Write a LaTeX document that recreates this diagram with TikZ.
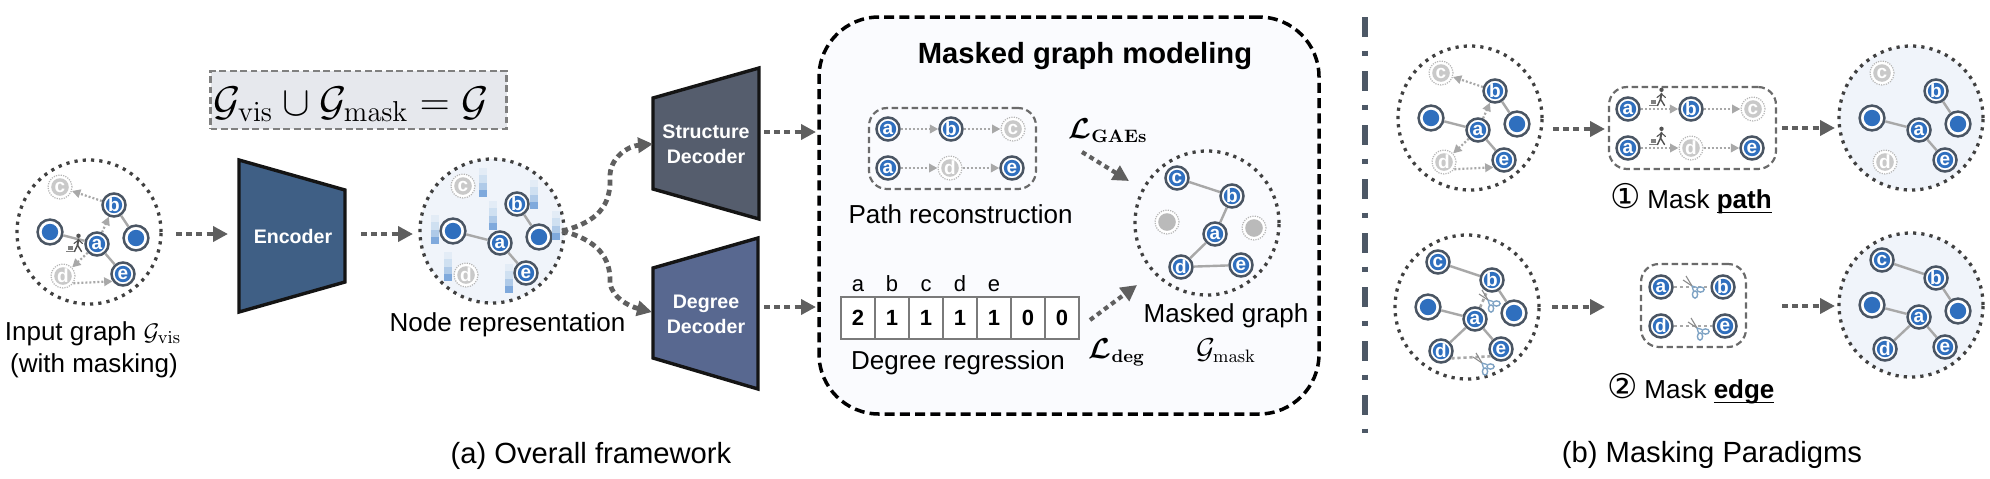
\documentclass[tikz,border=0pt]{standalone}
\usepackage[no-math]{fontspec}
\usepackage{amsmath,amssymb,bm}
\setmainfont{Liberation Sans}
\newfontfamily\djv{DejaVu Sans}
\usetikzlibrary{arrows.meta,calc}
\definecolor{ndblue}{HTML}{2F6FBE}
\definecolor{ring}{HTML}{4A5563}
\definecolor{ghost}{HTML}{C9C9C9}
\definecolor{edgeg}{HTML}{A8A8A8}
\definecolor{arrg}{HTML}{5F5F5F}
\definecolor{softb}{HTML}{F0F4FA}
\definecolor{panel}{HTML}{FAFBFE}
\definecolor{sepc}{HTML}{4D5866}
\definecolor{sciss}{HTML}{7FA3C4}
\definecolor{eqfill}{HTML}{E6E8ED}
\definecolor{encfill}{HTML}{3F5F85}
\definecolor{strfill}{HTML}{555D6D}
\definecolor{degfill}{HTML}{586890}
\definecolor{barA}{HTML}{E3ECF6}
\definecolor{barB}{HTML}{CFE0F1}
\definecolor{barC}{HTML}{AFCAE8}
\definecolor{barD}{HTML}{7FA9DC}
\tikzset{
  txt/.style={anchor=base,inner sep=0pt,font=\fontsize{13}{15}\selectfont},
  ltxt/.style={anchor=base west,inner sep=0pt,font=\fontsize{13}{15}\selectfont},
  capt/.style={anchor=base,inner sep=0pt,font=\fontsize{14.6}{17}\selectfont},
  wtxt/.style={anchor=base,inner sep=0pt,text=white,font=\fontsize{9.8}{11}\selectfont\bfseries},
  trap/.style={draw=black!92,line width=1.7pt,line join=miter},
  realn/.style={circle,draw=ring,line width=1.25pt,fill=white,minimum size=11.5pt,inner sep=0pt,
     text=white,font=\fontsize{9.5}{10}\selectfont\bfseries,
     path picture={\fill[ndblue] (path picture bounding box.center) circle (4.1pt);}},
  ghostn/.style={circle,draw=ghost!90!black,line width=.6pt,dash pattern=on .6pt off .6pt,fill=white,minimum size=12pt,inner sep=0pt,
     text=white,font=\fontsize{9.5}{10}\selectfont\bfseries,
     path picture={\fill[ghost] (path picture bounding box.center) circle (4.4pt);}},
  gcirc/.style={circle,draw=black!75,line width=1.65pt,dash pattern=on 1.6pt off 2.55pt,minimum size=72pt,inner sep=0pt},
  solidedge/.style={draw=edgeg,line width=1.2pt},
  dotarr/.style={draw=edgeg,line width=1.1pt,dash pattern=on 1pt off 1pt,-{Triangle[length=4.2pt,width=4.2pt,fill=edgeg]}},
  dotline/.style={draw=edgeg,line width=1.3pt,dash pattern=on 1.6pt off 1.4pt},
  bigarr/.style={draw=arrg,line width=2.4pt,dash pattern=on 3pt off 2.1pt,-{Triangle[length=7.5pt,width=7.5pt,fill=arrg]}},
  lossarr/.style={draw=arrg,line width=2.1pt,dash pattern=on 2.4pt off 2pt,-{Triangle[length=8pt,width=8pt,fill=arrg]}},
  pbox/.style={draw=black!58,line width=1.1pt,dash pattern=on 3.2pt off 1.8pt,rounded corners=9pt,inner sep=0pt},
  cell/.style={draw=black!52,line width=1.1pt,minimum width=17pt,minimum height=21pt,inner sep=0pt,fill=white,font=\fontsize{11}{12}\selectfont\bfseries},
}
\newcommand{\Ul}[1]{\setbox0\hbox{#1}\rlap{\rule[-2.5pt]{\wd0}{.6pt}}\box0}
\newcommand{\Base}[4]{%
  \node[gcirc,fill=#4] (#1) at (#2,#3) {};
  \begin{scope}[shift={(#2,#3)}]
    \node[realn,minimum size=12.4pt] (#1-L) at (-39,0) {};
    \node[realn,minimum size=12.4pt] (#1-R) at (47,6) {};
    \node[realn] (#1-a) at (8,12) {a};
    \node[realn] (#1-b) at (25,-27) {b};
    \node[realn] (#1-e) at (34,42) {e};
  \end{scope}
  \draw[solidedge] (#1-L) -- (#1-a);
  \draw[solidedge] (#1-b) -- (#1-R);
  \draw[solidedge] (#1-a) -- (#1-e);
}
\newcommand{\Ghosts}[3]{%
  \begin{scope}[shift={(#2,#3)}]
    \node[ghostn] (#1-c) at (-29,-45) {c};
    \node[ghostn] (#1-d) at (-26,44) {d};
  \end{scope}
}
\newcommand{\Reals}[3]{%
  \begin{scope}[shift={(#2,#3)}]
    \node[realn] (#1-c) at (-29,-45) {c};
    \node[realn] (#1-d) at (-26,44) {d};
  \end{scope}
  \draw[solidedge] (#1-c) -- (#1-b);
  \draw[solidedge] (#1-a) -- (#1-d);
}
\newcommand{\Walks}[1]{%
  \draw[dotarr] (#1-b) -- (#1-c);
  \draw[dotarr] (#1-a) -- (#1-b);
  \draw[dotarr] (#1-a) -- (#1-d);
  \draw[dotarr] (#1-d.-35) -- (#1-e.215);
}
\newcommand{\Arr}[5]{%
  \coordinate (#1s) at (#2,#3);
  \coordinate (#1t) at (#4,#5);
  \draw[bigarr] (#1s) -- (#1t);
}
\newcommand{\Barr}[2]{%
  \fill[barA] (#1,#2) rectangle ++(7.5,7.3);
  \fill[barB] (#1,#2+7.3) rectangle ++(7.5,7.3);
  \fill[barC] (#1,#2+14.6) rectangle ++(7.5,7.3);
  \fill[barD] (#1,#2+21.9) rectangle ++(7.5,7.3);
}
\newcommand{\Sc}[2]{%
  \begin{scope}[shift={(#1,#2)}]
    \draw[black!45,line width=.55pt] (0,0) -- (-9,-6);
    \draw[black!45,line width=.55pt] (0,0) -- (-6,-10);
    \draw[sciss,line width=.65pt] (0,0) -- (1.5,5) (0,0) -- (5,1.5);
    \draw[sciss,line width=.7pt] (3,8.5) ellipse (2.6 and 3.6);
    \draw[sciss,line width=.7pt] (8.5,3.5) ellipse (3.6 and 2.6);
  \end{scope}
}
\newcommand{\Wk}[2]{%
  \begin{scope}[shift={(#1,#2)},black!68]
    \fill (1.5,-7.2) circle (2.2);
    \draw[line width=.95pt,line cap=round] (1.5,-3.5) -- (0.5,2);
    \draw[line width=.7pt,line cap=round] (0.5,2) -- (4.5,8.5) (0.5,2) -- (-2.5,8.5);
    \draw[line width=.55pt,line cap=round] (1.5,-3) -- (5.5,0.5) (1.5,-3) -- (-3,0.5);
    \fill[black!50] (-9,3) rectangle (-4.5,7);
    \draw[black!50,line width=.5pt] (-11,8.7) -- (-3,8.7);
  \end{scope}
}
\begin{document}
\begin{tikzpicture}[x=.5pt,y=-.5pt]
\useasboundingbox (0,0) rectangle (1990,478);

% equation box
\node[draw=black!50,fill=eqfill,line width=1.4pt,dash pattern=on 3.4pt off 1.8pt,minimum width=148pt,minimum height=29pt,inner sep=0pt] (eqbox) at (358.5,100) {};
\node[anchor=base,inner sep=0pt,font=\fontsize{20}{24}\selectfont] (eq) at (351,115) {$\mathcal{G}_{\mathrm{vis}}\cup\mathcal{G}_{\mathrm{mask}}=\mathcal{G}$};

% input graph
\Base{g1}{89}{232}{white}
\Ghosts{g1}{89}{232}
\Walks{g1}
\Wk{77}{243}
\node[txt] (t1) at (93,340) {Input graph $\mathcal{G}_{\mathrm{vis}}$};
\node[txt] (t2) at (94,372) {(with masking)};

% encoder
\draw[trap,fill=encfill] (239,160) -- (345,190) -- (345,282) -- (239,312) -- cycle;
\node[wtxt] (enc) at (293,243) {Encoder};
\Arr{a1}{176}{234}{228}{234}
\Arr{a2}{361}{234}{413}{234}

% node representation
\Base{g2}{492}{231}{softb}
\Ghosts{g2}{492}{231}
\Barr{479}{168}
\Barr{530}{180}
\Barr{489}{201}
\Barr{431}{215}
\Barr{444}{252}
\Barr{552}{211}
\Barr{505}{264}
\node[txt] (t3) at (507.5,331) {Node representation};

% decoders
\draw[trap,fill=strfill] (653,98) -- (759,68) -- (759,219) -- (653,189) -- cycle;
\node[wtxt] (s1) at (706,138) {Structure};
\node[wtxt] (s2) at (706,163) {Decoder};
\draw[trap,fill=degfill] (653,268) -- (758,238) -- (758,389) -- (653,358) -- cycle;
\node[wtxt] (d1) at (706,308) {Degree};
\node[wtxt] (d2) at (706,333) {Decoder};

% curved arrows
\coordinate (cs) at (562,231);
\coordinate (ct1) at (653,144);
\coordinate (ct2) at (652,312);
\draw[bigarr] (cs) .. controls (598,222) and (611,205) .. (610,178) .. controls (609,158) and (628,146) .. (ct1);
\draw[bigarr] (cs) .. controls (598,240) and (611,258) .. (610,283) .. controls (612,297) and (628,306) .. (ct2);
\Arr{a3}{764}{132}{816}{132}
\Arr{a4}{764}{307}{816}{307}

% panel
\node[draw=black,fill=panel,line width=1.75pt,dash pattern=on 5pt off 2.6pt,rounded corners=30pt,minimum width=250pt,minimum height=198.5pt,inner sep=0pt] (panel) at (1069,215.5) {};
\node[inner sep=0pt,anchor=base,font=\fontsize{14.6}{17}\selectfont\bfseries] (title) at (1085,63) {Masked graph modeling};

% path reconstruction
\node[pbox,minimum width=83.5pt,minimum height=40.5pt] (pb1) at (952.5,148.5) {};
\node[realn] (p1a) at (888,129) {a};
\node[realn] (p1b) at (951,129) {b};
\node[ghostn] (p1c) at (1013,129) {c};
\node[realn] (p2a) at (888,168) {a};
\node[ghostn] (p2d) at (950,168) {d};
\node[realn] (p2e) at (1012,168) {e};
\draw[dotarr] (p1a) -- (p1b);
\draw[dotarr] (p1b) -- (p1c);
\draw[dotarr] (p2a) -- (p2d);
\draw[dotarr] (p2d) -- (p2e);
\node[txt] (t4) at (960.5,223) {Path reconstruction};

% degree array
\foreach \i/\l/\v in {0/a/2,1/b/1,2/c/1,3/d/1,4/e/1,5//0,6//0}{
  \node[cell] (cell\i) at (858+34*\i,318) {\v};
  \node[inner sep=0pt,anchor=base,font=\fontsize{11}{12}\selectfont] (let\i) at (858+34*\i,291) {\l};
}
\node[txt] (t5) at (958,369) {Degree regression};

% masked graph
\node[gcirc] (g3) at (1207,223) {};
\node[realn] (g3c) at (1177,178) {c};
\node[realn] (g3b) at (1232,196) {b};
\node[realn] (g3a) at (1215,234) {a};
\node[realn] (g3d) at (1181,267) {d};
\node[realn] (g3e) at (1241,265) {e};
\node[ghostn,path picture={\fill[black!27] (path picture bounding box.center) circle (4.4pt);}] (g3x) at (1167,222) {};
\node[ghostn,path picture={\fill[black!27] (path picture bounding box.center) circle (4.4pt);}] (g3y) at (1254,228) {};
\draw[solidedge] (g3c) -- (g3b);
\draw[solidedge] (g3b) -- (g3a);
\draw[solidedge] (g3a) -- (g3d);
\draw[solidedge] (g3d) -- (g3e);
\node[txt] (t6) at (1226,322) {Masked graph};
\node[inner sep=0pt,anchor=base,font=\fontsize{13.5}{15}\selectfont] (t7) at (1226,358) {$\mathcal{G}_{\mathrm{mask}}$};
\node[inner sep=0pt,anchor=base,font=\fontsize{13.5}{15}\selectfont] (t8) at (1117,358) {$\bm{\mathcal{L}}_{\mathbf{deg}}$};
\node[inner sep=0pt,anchor=base,font=\fontsize{13.5}{15}\selectfont] (t9) at (1108,138) {$\bm{\mathcal{L}}_{\mathbf{GAEs}}$};
\coordinate (l1s) at (1082,152); \coordinate (l1t) at (1129,181);
\coordinate (l2s) at (1090,320); \coordinate (l2t) at (1137,285);
\draw[lossarr] (l1s) -- (l1t);
\draw[lossarr] (l2s) -- (l2t);

% separator
\coordinate (seps) at (1365,17); \coordinate (sept) at (1365,433);
\draw[sepc,line width=2.6pt,dash pattern=on 10pt off 6.75pt on 2.5pt off 7.75pt] (seps) -- (sept);

% (b) top row
\Base{g4}{1470}{118}{white}
\Ghosts{g4}{1470}{118}
\Walks{g4}
\Arr{a5}{1553}{129}{1605}{129}
\node[pbox,minimum width=83.5pt,minimum height=41pt] (pb2) at (1692.5,128) {};
\node[realn] (q1a) at (1628,109) {a};
\node[realn] (q1b) at (1691,109) {b};
\node[ghostn] (q1c) at (1753,109) {c};
\node[realn] (q2a) at (1628,148) {a};
\node[ghostn] (q2d) at (1691,148) {d};
\node[realn] (q2e) at (1752,148) {e};
\draw[dotarr] (q1a) -- (q1b);
\draw[dotarr] (q1b) -- (q1c);
\draw[dotarr] (q2a) -- (q2d);
\draw[dotarr] (q2d) -- (q2e);
\Wk{1660}{97}
\Wk{1660}{136}
\Arr{a6}{1782}{128}{1835}{128}
\Base{g5}{1911}{118}{softb}
\Ghosts{g5}{1911}{118}
\node[ltxt,font=\djv\fontsize{17}{18}\selectfont] (n1) at (1610,208) {①};
\node[ltxt] (t10) at (1647,208) {Mask \Ul{\textbf{path}}};

% (b) bottom row
\Base{g6}{1467}{307}{white}
\Reals{g6}{1467}{307}
\draw[dotline] (g6-a) -- (g6-b);
\draw[dotline] (g6-d.-35) -- (g6-e.215);
\Sc{1488}{300}
\Sc{1482}{363}
\Arr{a7}{1552}{307}{1605}{307}
\node[pbox,minimum width=52.5pt,minimum height=41.5pt] (pb3) at (1693.5,305.5) {};
\node[realn] (r1a) at (1661,287) {a};
\node[realn] (r1b) at (1723,287) {b};
\node[realn] (r2d) at (1661,326) {d};
\node[realn] (r2e) at (1725,326) {e};
\draw[dotline] (r1a) -- (r1b);
\draw[dotline] (r2d) -- (r2e);
\Sc{1692}{286}
\Sc{1697}{328}
\Arr{a8}{1782}{306}{1835}{306}
\Base{g7}{1911}{305}{softb}
\Reals{g7}{1911}{305}
\node[ltxt,font=\djv\fontsize{17}{18}\selectfont] (n2) at (1607,398) {②};
\node[ltxt] (t11) at (1644,398) {Mask \Ul{\textbf{edge}}};

% captions
\node[capt] (c1) at (591,463) {(a) Overall framework};
\node[capt] (c2) at (1712,462) {(b) Masking Paradigms};
\end{tikzpicture}
\end{document}
